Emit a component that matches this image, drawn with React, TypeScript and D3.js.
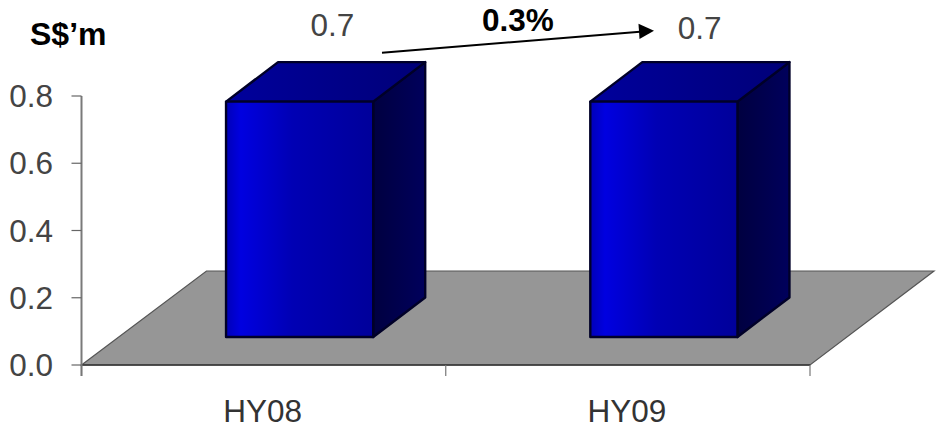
import React from "react";
import * as d3 from "d3";

const categories = ["HY08", "HY09"];
const values = [0.7, 0.7];
const yTicks = [0, 0.2, 0.4, 0.6, 0.8];
const unitLabel = "S$’m";
const growthLabel = "0.3%";

const W = 942;
const H = 433;
const FONT = "'Liberation Sans', Arial, sans-serif";
const LABEL_SIZE = 31.5;

// Oblique projection of the depth axis
const depth = { dx: 125, dy: -94 };
const barDepth = { dx: 52, dy: -39.5 };

const y = d3.scaleLinear().domain([0, 0.8]).range([365, 96]);
const x = d3.scaleBand<string>().domain(categories).range([81.5, 810]);
const barWidth = x.bandwidth() * 0.404;
const barShift = { dx: 36, dy: -28 };
const fmt = d3.format(".1f");

const pts = (p: [number, number][]) => p.map((q) => q.join(",")).join(" ");
const labelDrop = [-1, 2];
const labelSlide = [0, 3];

export default function App() {
  const [x0, x1] = x.range();
  const floorY = y(0);
  const floor: [number, number][] = [
    [x0, floorY],
    [x0 + depth.dx, floorY + depth.dy],
    [x1 + depth.dx - 1, floorY + depth.dy],
    [x1, floorY],
  ];
  return (
    <svg
      width={W}
      height={H}
      viewBox={`0 0 ${W} ${H}`}
      style={{ position: "absolute", left: 0, top: 0, background: "#fff" }}
      fontFamily={FONT}
    >
      <defs>
        <linearGradient id="front" x1="0" x2="1" y1="0" y2="0">
          <stop offset="0" stopColor="#0000b8" />
          <stop offset="0.1" stopColor="#0000e0" />
          <stop offset="0.45" stopColor="#0000b4" />
          <stop offset="1" stopColor="#00009a" />
        </linearGradient>
        <linearGradient id="side" x1="0" x2="1" y1="0" y2="0">
          <stop offset="0" stopColor="#000040" />
          <stop offset="1" stopColor="#00005c" />
        </linearGradient>
        <linearGradient id="top" x1="0" x2="1" y1="0" y2="0">
          <stop offset="0" stopColor="#00009c" />
          <stop offset="1" stopColor="#000078" />
        </linearGradient>
      </defs>

      {/* Floor of the 3D plot */}
      <polygon points={pts(floor)} fill="#969696" stroke="#555" strokeWidth={1.2} />
      <line x1={x0} x2={x1} y1={floorY} y2={floorY} stroke="#333" strokeWidth={1.6} />

      {/* Value axis */}
      <line x1={x0} x2={x0} y1={y(0.8)} y2={floorY + 11} stroke="#7a7a7a" strokeWidth={2} />
      {yTicks.map((t) => (
        <g key={t}>
          <line x1={x0 - 10} x2={x0} y1={y(t)} y2={y(t)} stroke="#666" strokeWidth={1.2} />
          <text x={53} y={y(t) + 11} textAnchor="end" fontSize={LABEL_SIZE} fill="#444">
            {fmt(t)}
          </text>
        </g>
      ))}

      {/* Category axis */}
      {[x0, x0 + x.step(), x1].map((t) => (
        <line key={t} x1={t} x2={t} y1={floorY} y2={floorY + 11} stroke="#777" strokeWidth={1.2} />
      ))}
      {categories.map((c) => (
        <text
          key={c}
          x={x(c)! + x.bandwidth() / 2 - 1}
          y={422}
          textAnchor="middle"
          fontSize={LABEL_SIZE}
          fill="#333"
        >
          {c}
        </text>
      ))}

      {/* Extruded bars */}
      {categories.map((c, i) => {
        const l = x(c)! + x.bandwidth() / 2 + barShift.dx - barWidth / 2;
        const r = l + barWidth;
        const b = y(0) + barShift.dy;
        const t = y(values[i]) + barShift.dy;
        return (
          <g key={c} stroke="#000028" strokeWidth={2.4} strokeLinejoin="round">
            <polygon
              points={pts([
                [r, t],
                [r + barDepth.dx, t + barDepth.dy],
                [r + barDepth.dx, b + barDepth.dy],
                [r, b],
              ])}
              fill="url(#side)"
            />
            <polygon
              points={pts([
                [l, t],
                [l + barDepth.dx, t + barDepth.dy],
                [r + barDepth.dx, t + barDepth.dy],
                [r, t],
              ])}
              fill="url(#top)"
            />
            <rect x={l} y={t} width={barWidth} height={b - t} fill="url(#front)" />
            <text
              x={(l + r) / 2 + barDepth.dx * 0.63 + labelSlide[i]}
              y={t + barDepth.dy - 25 + labelDrop[i]}
              textAnchor="middle"
              fontSize={LABEL_SIZE}
              fill="#444"
              stroke="none"
            >
              {fmt(values[i])}
            </text>
          </g>
        );
      })}

      {/* Unit caption and growth annotation */}
      <text x={30} y={45} fontSize={32} fontWeight="bold" fill="#000">
        {unitLabel}
      </text>
      <text x={482} y={31} fontSize={31.5} fontWeight="bold" fill="#000">
        {growthLabel}
      </text>
      <line x1={382} y1={52.7} x2={640} y2={31.8} stroke="#000" strokeWidth={2} />
      <polygon points="654,30.7 638.5,23.8 639.5,39" fill="#000" />
    </svg>
  );
}
